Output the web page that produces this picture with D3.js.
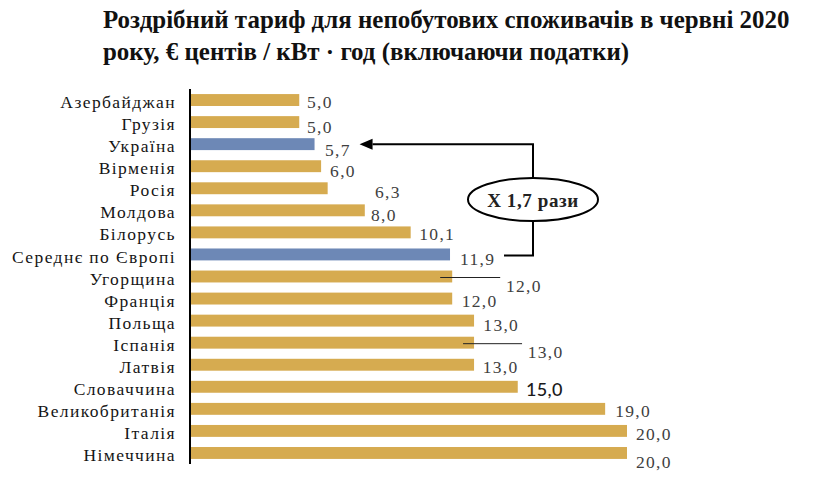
<!DOCTYPE html>
<html><head><meta charset="utf-8">
<script src="https://cdn.jsdelivr.net/npm/d3@7"></script>
<style>
html,body{margin:0;padding:0;background:#fff;}
svg{display:block;}
</style></head>
<body>
<svg id="chart" width="815" height="481"></svg>
<script>
const categories = ["Азербайджан","Грузія","Україна","Вірменія","Росія","Молдова","Білорусь","Середнє по Європі","Угорщина","Франція","Польща","Іспанія","Латвія","Словаччина","Великобританія","Італія","Німеччина"];
const values = [5.0,5.0,5.7,6.0,6.3,8.0,10.1,11.9,12.0,12.0,13.0,13.0,13.0,15.0,19.0,20.0,20.0];
const valueLabels = ["5,0","5,0","5,7","6,0","6,3","8,0","10,1","11,9","12,0","12,0","13,0","13,0","13,0","15,0","19,0","20,0","20,0"];
const highlighted = ["Україна","Середнє по Європі"];
const titleLines = ["Роздрібний тариф для непобутових споживачів в червні 2020","року, € центів / кВт · год (включаючи податки)"];
const annotationText = "X 1,7 рази";
// label nudges (layout only): [dx from bar end, baseline dy from bar centre]
const labelNudge = [[7.7,7.7],[7.7,10.6],[10.5,11.6],[9,10.5],[47.3,10],[6.2,10.7],[8.6,7.6],[10,10.6],[53.8,15.8],[9.5,8.2],[9.3,10],[53.7,15.6],[8.7,8],[8.3,9.2],[10,7.9],[9,9.1],[9,15.3]];
const leaderLines = {"Угорщина":[-12,48],"Іспанія":[-11,48]};

const svg = d3.select("#chart");
const gold = "#d6ab50", blue = "#6d88b6";
const serif = "'Liberation Serif', serif";

const x = d3.scaleLinear().domain([0,20]).range([190,627]);
const y = d3.scaleBand().domain(categories).range([89,464]).paddingInner(0.46).paddingOuter(0.23);

// title
const tg = svg.append("g");
const titleY = [28,60];
titleLines.forEach((t,i)=>{
  tg.append("text").attr("x",103).attr("y",titleY[i])
    .attr("font-family",serif).attr("font-weight","bold")
    .attr("font-size",22).attr("fill","#111").text(t);
});
const w0 = tg.select("text").node().getComputedTextLength();
tg.selectAll("text").attr("font-size",22*687/w0);

// bars
svg.append("g").selectAll("rect").data(categories).join("rect")
  .attr("x",x(0)).attr("y",d=>y(d))
  .attr("width",(d,i)=>x(values[i])-x(0)).attr("height",y.bandwidth())
  .attr("fill",d=>highlighted.includes(d)?blue:gold);

// axis
const axis = d3.axisLeft(y).tickSize(0).tickPadding(14);
const ag = svg.append("g").attr("transform",`translate(${x(0)},0)`).call(axis);
ag.select(".domain").attr("stroke","#000").attr("stroke-width",2).attr("d",`M0,89V464`);
ag.selectAll(".tick text").attr("font-family",serif).attr("font-size",17.5)
  .attr("letter-spacing",1.4).attr("fill","#151515").attr("dy","0.46em");

// leader lines
Object.entries(leaderLines).forEach(([c,[a,b]])=>{
  const i = categories.indexOf(c);
  const yy = y(c)+y.bandwidth()/2+1;
  svg.append("line").attr("x1",x(values[i])+a).attr("x2",x(values[i])+b)
    .attr("y1",yy).attr("y2",yy).attr("stroke","#222").attr("stroke-width",1);
});

// value labels
svg.append("g").selectAll("text").data(categories).join("text")
  .attr("x",(d,i)=>x(values[i])+labelNudge[i][0])
  .attr("y",(d,i)=>y(d)+y.bandwidth()/2+labelNudge[i][1])
  .attr("font-family",d=>d==="Словаччина"?"Lato, 'Liberation Sans', sans-serif":serif)
  .attr("font-size",d=>d==="Словаччина"?18:17.5)
  .attr("letter-spacing",d=>d==="Словаччина"?0.3:1.3)
  .attr("font-weight",d=>d==="Словаччина"?500:400)
  .attr("fill",d=>d==="Словаччина"?"#1a1a1a":"#404040")
  .text((d,i)=>valueLabels[i]);

// annotation
const iU = categories.indexOf("Україна"), iE = categories.indexOf("Середнє по Європі");
const yU = y("Україна")+y.bandwidth()/2, yE = y("Середнє по Європі")+y.bandwidth()/2;
const cx = 533, ellTop = 178, ellBot = 221;
const ag2 = svg.append("g").attr("stroke","#000").attr("stroke-width",2).attr("fill","none");
ag2.append("path").attr("d",`M${cx},${ellTop}V${yU}H${x(values[iU])+58}`);
ag2.append("path").attr("d",`M${cx},${ellBot}V${yE+1}H${x(values[iE])+54}`);
svg.append("path").attr("d",`M${x(values[iU])+45},${yU}l13,-5.5v11z`).attr("fill","#000");
svg.append("ellipse").attr("cx",cx).attr("cy",(ellTop+ellBot)/2).attr("rx",65).attr("ry",21.5)
  .attr("fill","#fff").attr("stroke","#000").attr("stroke-width",2);
svg.append("text").attr("x",cx).attr("y",207).attr("text-anchor","middle")
  .attr("font-family",serif).attr("font-weight","bold").attr("font-size",19)
  .attr("letter-spacing",0.6)
  .attr("fill","#222").text(annotationText);
</script>
</body></html>
